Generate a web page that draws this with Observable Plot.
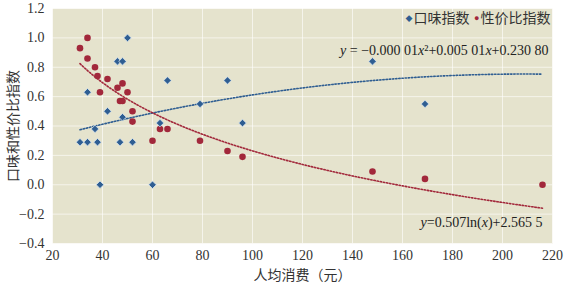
<!DOCTYPE html>
<html>
<head>
<meta charset="utf-8">
<script src="https://cdn.jsdelivr.net/npm/d3@7"></script>
<script src="https://cdn.jsdelivr.net/npm/@observablehq/plot@0.6"></script>
<style>
  body { margin: 0; background: #fff; }
  #chart { width: 566px; height: 284px; }
</style>
</head>
<body>
<div id="chart"></div>
<script>
// 口味指数 (taste index) by per-capita spend
const tasteSpend = [31, 34, 34, 37, 38, 39, 42, 46, 48, 47, 48, 50, 52, 60, 63, 66, 79, 90, 96, 148, 169];
const tasteIndex = [0.29, 0.29, 0.63, 0.38, 0.29, 0.00, 0.50, 0.84, 0.84, 0.29, 0.46, 1.00, 0.29, 0.00, 0.42, 0.71, 0.55, 0.71, 0.42, 0.84, 0.55];

// 性价比指数 (value-for-money index) by per-capita spend
const valueSpend = [31, 34, 34, 37, 38, 39, 42, 46, 48, 47, 48, 50, 52, 52, 60, 63, 66, 79, 90, 96, 148, 169, 216];
const valueIndex = [0.93, 1.00, 0.86, 0.80, 0.74, 0.63, 0.72, 0.66, 0.69, 0.57, 0.57, 0.63, 0.50, 0.43, 0.30, 0.38, 0.38, 0.30, 0.23, 0.19, 0.09, 0.04, 0.00];

// Trend-line coefficients: quadratic [a, b, c] and logarithmic [m, k]
const tasteFit = [-0.000012, 0.00501, 0.2308];
const valueFit = [-0.507, 2.5655];

// Equation labels and axis ticks
const tasteEquation = "y = −0.000 01x²+0.005 01x+0.230 80";
const valueEquation = "y=0.507ln(x)+2.565 5";
const seriesNames = ["口味指数", "性价比指数"];
const xTicks = [20, 40, 60, 80, 100, 120, 140, 160, 180, 200, 220];
const yTicks = [-0.4, -0.2, 0, 0.2, 0.4, 0.6, 0.8, 1.0, 1.2];

const BLUE = "#2f5e92";
const RED = "#a2283b";

const taste = tasteSpend.map((x, i) => ({x, y: tasteIndex[i]}));
const value = valueSpend.map((x, i) => ({x, y: valueIndex[i]}));

// trend lines span the full range of observed spend
const [lo, hi] = d3.extent(tasteSpend.concat(valueSpend));
const xs = d3.range(lo, hi, 1).concat([hi]);
const tasteCurve = xs.map(x => ({x, y: tasteFit[0] * x * x + tasteFit[1] * x + tasteFit[2]}));
const valueCurve = xs.map(x => ({x, y: valueFit[0] * Math.log(x) + valueFit[1]}));

const serif = "'Liberation Serif', 'Noto Sans CJK SC', serif";
const cjk = "'Noto Sans CJK SC', sans-serif";

const chart = Plot.plot({
  width: 566,
  height: 284,
  marginLeft: 52,
  marginRight: 14,
  marginTop: 8,
  marginBottom: 41,
  style: {fontFamily: serif, fontSize: "14px", color: "#333", background: "#fff"},
  x: {domain: [20, 220]},
  y: {domain: [-0.4, 1.2]},
  marks: [
    Plot.frame({fill: "#e5e3cd"}),
    Plot.gridX(xTicks, {stroke: "#fff", strokeOpacity: 0.6}),
    Plot.gridY(yTicks, {stroke: "#fff", strokeOpacity: 0.6}),
    Plot.axisX(xTicks, {
      tickSize: 0, tickPadding: 7, fontSize: 14,
      label: "人均消费（元）", labelAnchor: "center", labelOffset: 36, labelArrow: "none"
    }),
    Plot.axisY(yTicks, {
      tickSize: 0, tickPadding: 8, fontSize: 14, tickFormat: d3.format(".1f"),
      label: "口味和性价比指数", labelAnchor: "center", labelOffset: 44, labelArrow: "none"
    }),
    Plot.line(tasteCurve, {x: "x", y: "y", stroke: BLUE, strokeWidth: 1.6, strokeDasharray: "1.4,1.8", curve: "linear"}),
    Plot.line(valueCurve, {x: "x", y: "y", stroke: RED, strokeWidth: 1.6, strokeDasharray: "1.4,1.8", curve: "linear"}),
    Plot.dot(value, {x: "x", y: "y", r: 3.3, fill: RED}),
    Plot.dot(taste, {x: "x", y: "y", symbol: "diamond2", r: 3.4, fill: BLUE, stroke: "#d6e3ef", strokeWidth: 0.8}),
    // legend
    Plot.text([seriesNames[1]], {text: d => d, frameAnchor: "top-right", dx: -2, dy: 10, lineAnchor: "middle", fontSize: 14, fontFamily: cjk, fill: "#333"}),
    Plot.text(["●"], {text: d => d, frameAnchor: "top-right", dx: -73, dy: 10, lineAnchor: "middle", fontSize: 9, fill: RED}),
    Plot.text([seriesNames[0]], {text: d => d, frameAnchor: "top-right", dx: -83, dy: 10, lineAnchor: "middle", fontSize: 14, fontFamily: cjk, fill: "#333"}),
    Plot.text(["◆"], {text: d => d, frameAnchor: "top-right", dx: -140, dy: 10, lineAnchor: "middle", fontSize: 7, fill: BLUE}),
    // trend-line equations
    Plot.text([tasteEquation], {text: d => d, frameAnchor: "top-right", dx: -4, dy: 42, lineAnchor: "middle", fontSize: 14, fill: "#222"}),
    Plot.text([valueEquation], {text: d => d, frameAnchor: "bottom-right", dx: -10, dy: -21, lineAnchor: "middle", fontSize: 14, fill: "#222"})
  ]
});

// italicise the variables in the equation labels
d3.select(chart).selectAll("text").each(function () {
  const s = this.textContent;
  if (s !== tasteEquation && s !== valueEquation) return;
  const sel = d3.select(this);
  sel.text(null);
  s.split(/([xy])/).filter(p => p.length).forEach(p => {
    const t = sel.append("tspan").text(p);
    if (p === "x" || p === "y") t.attr("font-style", "italic");
  });
});

document.getElementById("chart").append(chart);
</script>
</body>
</html>
